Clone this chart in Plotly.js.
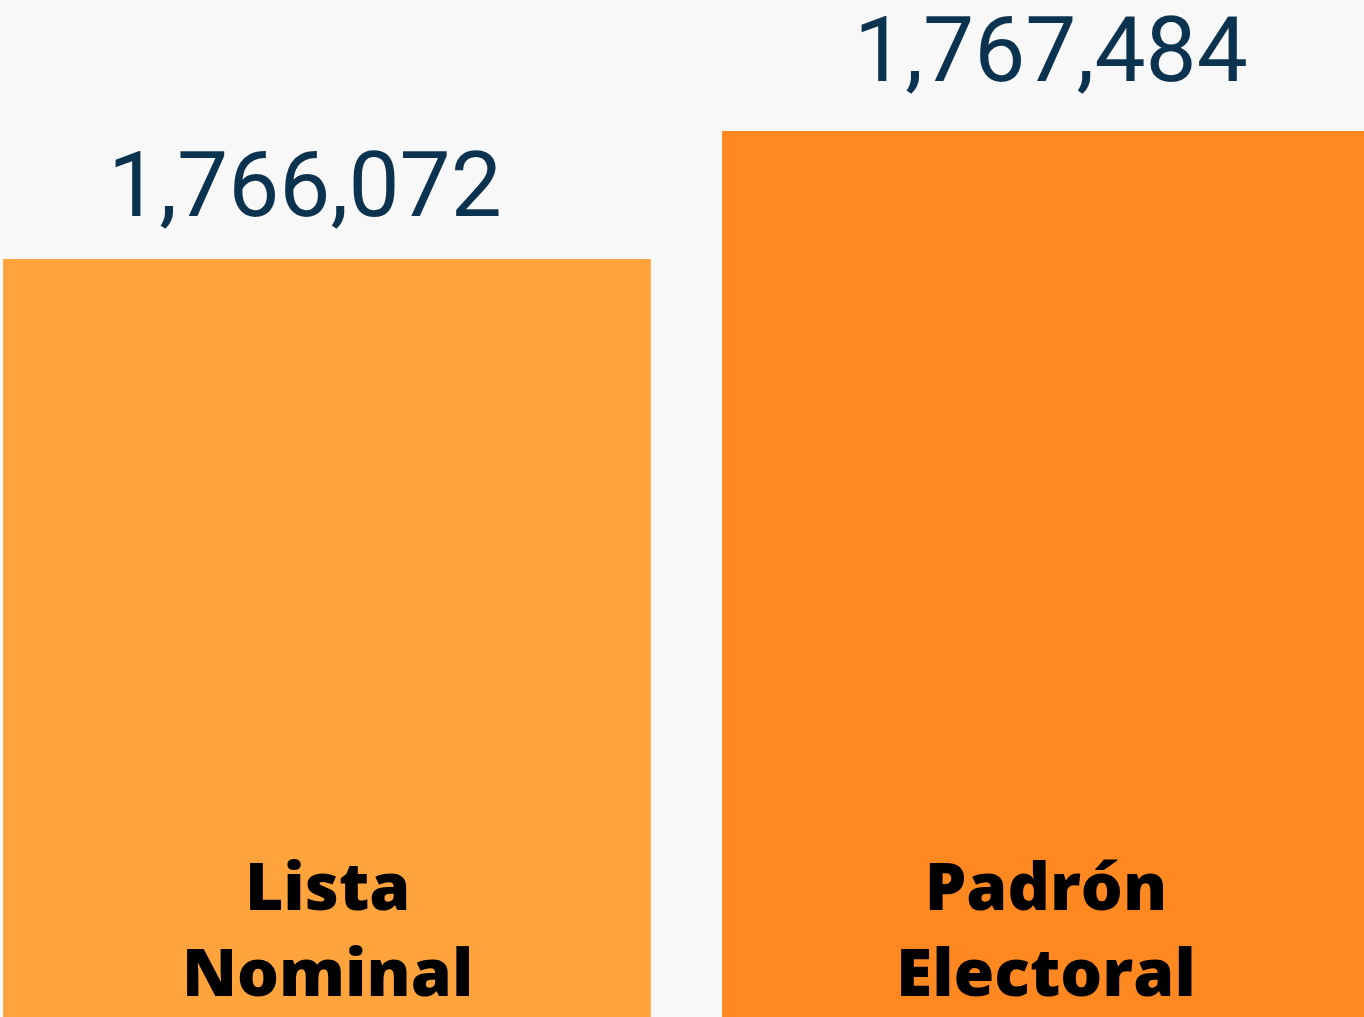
<!DOCTYPE html>
<html>
<head>
<meta charset="utf-8">
<script src="https://cdn.plot.ly/plotly-3.0.1.min.js"></script>
<style>
  html, body { margin: 0; padding: 0; background: #f8f8f8; }
  #chart { width: 1364px; height: 1017px; }
</style>
</head>
<body>
<div id="chart"></div>
<script>
const categories = ["Lista Nominal", "Padrón Electoral"];
const categoryLabels = ["Lista<br>Nominal", "Padrón<br>Electoral"];
const values = [1766072, 1767484];
const valueLabels = ["1,766,072", "1,767,484"];
const barColors = ["#FFA43C", "#FF8820"];

const trace = {
  type: "bar",
  x: categories,
  y: values,
  marker: { color: barColors, line: { width: 0 } },
  hoverinfo: "none"
};

const valueFont = { family: "Roboto, sans-serif", size: 91, color: "#0B3350", weight: 400 };
const catFont = { family: "Open Sans, sans-serif", size: 66, color: "#000000", weight: 800 };

const annotations = [
  { x: categories[0], y: values[0], xref: "x", yref: "y", text: valueLabels[0], showarrow: false,
    yanchor: "bottom", yshift: 19, xshift: -22, font: valueFont },
  { x: categories[1], y: values[1], xref: "x", yref: "y", text: valueLabels[1], showarrow: false,
    yanchor: "bottom", yshift: 26, xshift: 5, font: valueFont },
  { x: categories[0], y: 0, xref: "x", yref: "paper", text: categoryLabels[0], showarrow: false,
    yanchor: "bottom", yshift: 0, font: catFont },
  { x: categories[1], y: 0, xref: "x", yref: "paper", text: categoryLabels[1], showarrow: false,
    yanchor: "bottom", yshift: 0, font: catFont }
];

const layout = {
  width: 1364, height: 1017,
  margin: { l: 0, r: 0, t: 0, b: 0, pad: 0 },
  paper_bgcolor: "#f8f8f8",
  plot_bgcolor: "rgba(0,0,0,0)",
  showlegend: false,
  bargap: 0.099,
  xaxis: { type: "category", range: [-0.4548, 1.4423], visible: false, fixedrange: true },
  yaxis: { range: [1757710, 1768929], visible: false, fixedrange: true },
  annotations: annotations
};

Plotly.newPlot("chart", [trace], layout, { displayModeBar: false, staticPlot: true });
</script>
</body>
</html>
